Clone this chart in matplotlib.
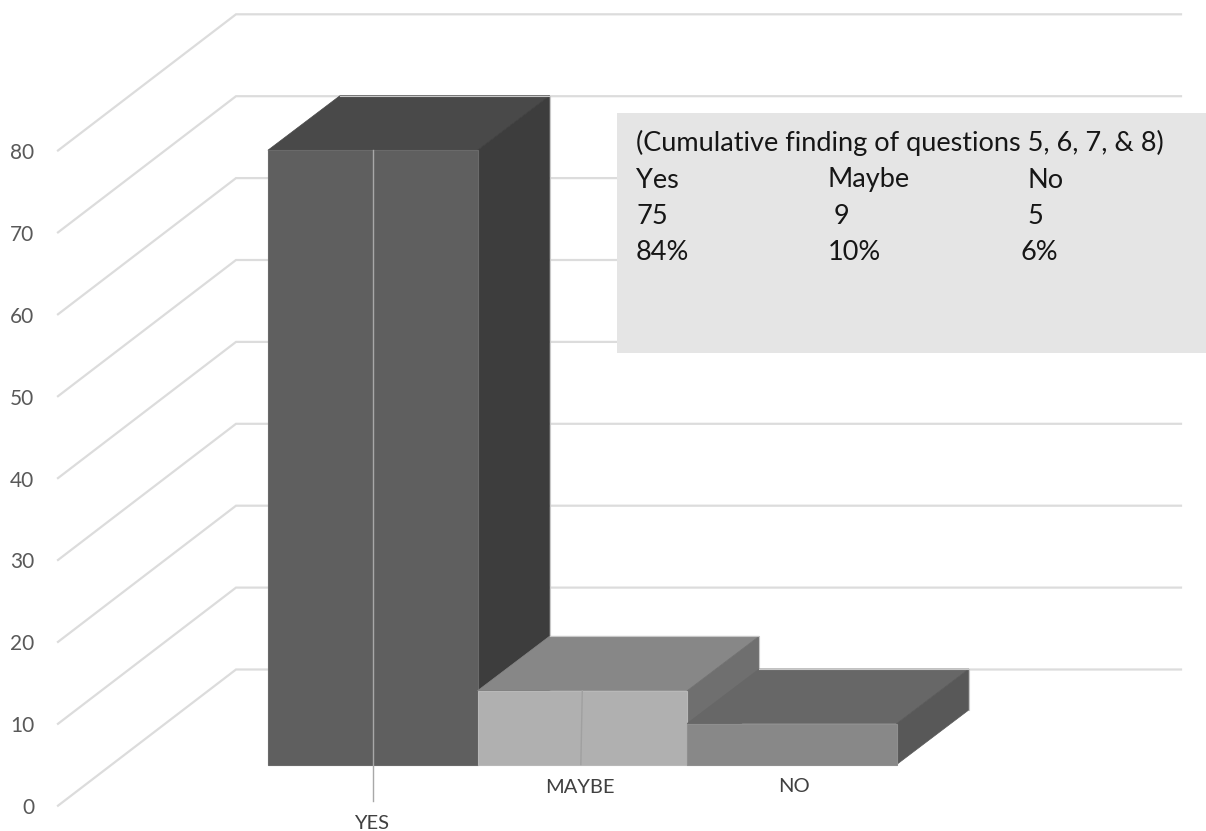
"""Oblique 3-D style column chart of cumulative survey answers."""

import matplotlib

matplotlib.use("Agg")

import matplotlib.pyplot as plt
from matplotlib.patches import Polygon, Rectangle

CATEGORIES = ["YES", "MAYBE", "NO"]
VALUES = [75, 9, 5]
Y_TICKS = [0, 10, 20, 30, 40, 50, 60, 70, 80]

NOTE_TITLE = "(Cumulative finding of questions 5, 6, 7, & 8)"
NOTE_HEADERS = ["Yes", "Maybe", "No"]
NOTE_COUNTS = ["75", "9", "5"]
NOTE_SHARES = ["84%", "10%", "6%"]

FIG_W, FIG_H = 1206, 831

# Scales: one category is 209.6 px wide, one value unit is 8.19 px tall.
X_UNIT = 209.6
Y_UNIT = 8.19
X_ZERO = 372.7
Y_ZERO = 764.5

FACE_COLORS = ["#5f5f5f", "#b0b0b0", "#888888"]
TOP_COLORS = ["#494949", "#878787", "#676767"]
SIDE_COLORS = ["#3d3d3d", "#6f6f6f", "#585858"]
EDGE_COLORS = ["#6a6a6a", "#b8b8b8", "#8f8f8f"]

BAR_DX = 72 / X_UNIT
BAR_DY = 54.5 / Y_UNIT

# Floor and back wall, relative to the plane of the bar fronts.
WALL_X0 = (58 - X_ZERO) / X_UNIT
WALL_X1 = (236 - X_ZERO) / X_UNIT
WALL_X2 = (1181 - X_ZERO) / X_UNIT
WALL_Y0 = (Y_ZERO - 805.7) / Y_UNIT
WALL_Y1 = (Y_ZERO - 669.5) / Y_UNIT


def px(x, y):
    """Convert pixel coordinates to figure fractions."""
    return x / FIG_W, 1 - y / FIG_H


def draw_bar(ax, i, value):
    """Draw the top, side and front faces of one column, plus its back outline."""
    left, right = i - 0.5, i + 0.5
    top = [(left, value), (left + BAR_DX, value + BAR_DY),
           (right + BAR_DX, value + BAR_DY), (right, value)]
    side = [(right, 0), (right + BAR_DX, BAR_DY),
            (right + BAR_DX, value + BAR_DY), (right, value)]
    front = [(left, 0), (right, 0), (right, value), (left, value)]

    ax.add_patch(Polygon(top, closed=True, facecolor=TOP_COLORS[i],
                         edgecolor=TOP_COLORS[i], linewidth=0.5, zorder=3 + i))
    ax.add_patch(Polygon(side, closed=True, facecolor=SIDE_COLORS[i],
                         edgecolor=SIDE_COLORS[i], linewidth=0.5, zorder=3 + i))
    ax.add_patch(Polygon(front, closed=True, facecolor=FACE_COLORS[i],
                         edgecolor=EDGE_COLORS[i], linewidth=0.8, zorder=3 + i))
    ax.plot(
        [left + BAR_DX, right + BAR_DX, right + BAR_DX],
        [value + BAR_DY, value + BAR_DY, BAR_DY],
        color="#c8c8c8",
        linewidth=0.8,
        zorder=3 + i,
    )


fig = plt.figure(figsize=(FIG_W / 100, FIG_H / 100), dpi=100)
ax = fig.add_axes([0, 0, 1, 1])
ax.set_xlim(-X_ZERO / X_UNIT, (FIG_W - X_ZERO) / X_UNIT)
ax.set_ylim((Y_ZERO - FIG_H) / Y_UNIT, Y_ZERO / Y_UNIT)
ax.axis("off")

plt.rcParams["font.family"] = ["Lato", "DejaVu Sans"]

# Gridlines run across the floor edge and then along the back wall.
for tick in Y_TICKS:
    ax.plot(
        [WALL_X0, WALL_X1, WALL_X2],
        [tick + WALL_Y0, tick + WALL_Y1, tick + WALL_Y1],
        color="#dcdcdc",
        linewidth=1.6,
        solid_joinstyle="miter",
        zorder=1,
    )
    ax.text(WALL_X0 - 0.113, tick + WALL_Y0 - 0.3, str(tick), ha="right", va="center",
            fontsize=15, color="#595959", zorder=2)

for i, value in enumerate(VALUES):
    draw_bar(ax, i, value)

# Thin leader lines through the centre of the first two columns.
ax.plot([0, 0], [VALUES[0], -4.47], color="#a8a8a8", linewidth=1.0, zorder=7)
ax.plot([1 - 0.007, 1], [0, VALUES[1]], color="#a0a0a0", linewidth=1.0, zorder=7)

ax.text(-0.005, -7.25, CATEGORIES[0], ha="center", va="center", fontsize=14.5, color="#404040")
ax.text(0.99, -2.75, CATEGORIES[1], ha="center", va="center", fontsize=14.5, color="#404040")
ax.text(2.01, -2.7, CATEGORIES[2], ha="center", va="center", fontsize=14.5, color="#404040")

# Note box with the summary table, above the gridlines.
box_x, box_y = px(617, 353)
fig.add_artist(Rectangle((box_x, box_y), (FIG_W - 617) / FIG_W, (353 - 113) / FIG_H,
                         transform=fig.transFigure, facecolor="#e5e5e5", edgecolor="none",
                         zorder=10))

note_style = dict(fontsize=19.5, color="#161616", va="center", zorder=11)
fig.text(*px(636, 143), NOTE_TITLE, **note_style)
for line_y, row, offsets in [
    (180, NOTE_HEADERS, (636, 828, 1027)),
    (216.5, NOTE_COUNTS, (636, 834, 1027)),
    (253, NOTE_SHARES, (636, 828, 1020)),
]:
    for x, label in zip(offsets, row):
        fig.text(*px(x, line_y), label, **note_style)

fig.savefig("out.png", dpi=100)
plt.close(fig)
